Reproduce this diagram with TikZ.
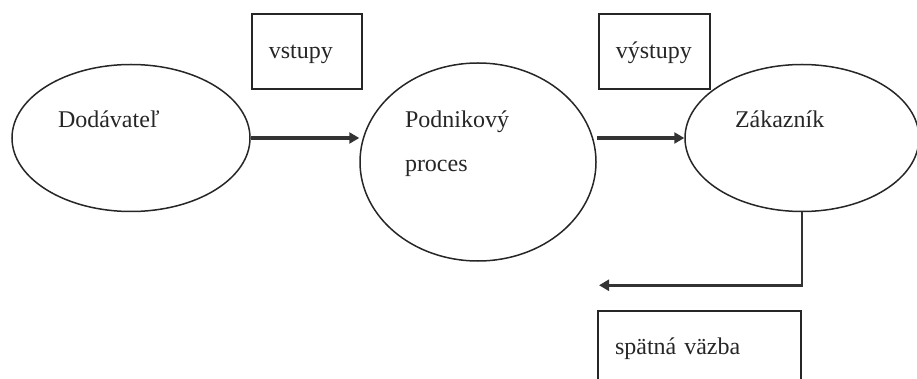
\documentclass[tikz,border=0pt]{standalone}
\usepackage{fontspec}
\setmainfont{Liberation Serif}
\usetikzlibrary{shapes.geometric,positioning,arrows.meta}

\tikzset{
    entity/.style={ellipse, draw=black!85, line width=1.5pt, inner sep=0pt, align=left, text height=17pt},
    flowbox/.style={rectangle, draw=black!85, line width=2pt, inner sep=0pt, align=left, text height=17pt, text depth=2pt, minimum height=75pt},
    flow/.style={draw=black!80, line width=3.5pt, -{Triangle[length=10pt,width=11pt]}},
    feedback/.style={draw=black!80, line width=2.5pt, -{Triangle[length=10pt,width=11pt]}},
}

\begin{document}
\begin{tikzpicture}[x=1pt, y=-1pt, font=\fontsize{24}{44}\selectfont, text=black!85]
    \useasboundingbox (0,0) rectangle (917,379);

    \node[entity, minimum width=238pt, minimum height=147pt, text width=146pt, text depth=37pt] (dod) at (131,138) {Dodávateľ}; % supplier
    \node[entity, minimum width=236pt, minimum height=198pt, text width=146pt, text depth=85pt] (proc) at (478,162) {Podnikový\\proces}; % process
    \node[entity, minimum width=234pt, minimum height=147pt, text width=134pt, text depth=37pt] (zak) at (802,138) {Zákazník}; % customer

    \node[flowbox, minimum width=110pt, text width=76pt, above right=48pt and 0pt of dod.east] (vst) {vstupy}; % inputs
    \node[flowbox, minimum width=111pt, text width=77pt, above right=72pt and 1pt of proc.east] (vyst) {výstupy}; % outputs

    \coordinate[below left=73pt and 203pt of zak.south] (fb); % end of feedback arrow
    \node[flowbox, minimum width=203pt, minimum height=90pt, text width=169pt, text depth=21pt, below right=25pt and -2pt of fb] (vazba) {spätná väzba}; % feedback

    \draw[flow] (dod.east) -- (dod.east -| proc.west);
    \draw[flow] (zak.west -| proc.east) -- (zak.west);
    \draw[feedback] (zak.south) |- (fb);
\end{tikzpicture}
\end{document}
